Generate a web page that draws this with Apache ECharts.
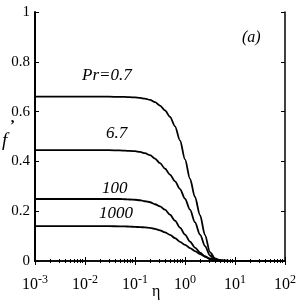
<!DOCTYPE html>
<html><head><meta charset="utf-8">
<script src="https://cdn.jsdelivr.net/npm/echarts@6/dist/echarts.min.js"></script>
<style>html,body{margin:0;padding:0;background:#fff}#c{width:300px;height:307px}</style>
</head><body><div id="c"></div>
<script>
// Data (eta on log scale, f' values)
var eta    = [0.001, 0.01, 0.03, 0.05, 0.063, 0.079, 0.1, 0.126, 0.158, 0.2, 0.251, 0.316, 0.398, 0.501, 0.631, 0.794, 1, 1.26, 1.58, 2, 2.51, 3.16, 3.98, 5.01, 6.31, 10, 100];
var f07    = [0.660, 0.660, 0.660, 0.659, 0.659, 0.658, 0.657, 0.655, 0.652, 0.647, 0.638, 0.624, 0.605, 0.579, 0.541, 0.484, 0.408, 0.330, 0.257, 0.184, 0.104, 0.036, 0.010, 0.003, 0.001, 0, 0];
var f67    = [0.445, 0.445, 0.445, 0.444, 0.443, 0.442, 0.441, 0.438, 0.433, 0.425, 0.411, 0.393, 0.371, 0.347, 0.320, 0.289, 0.250, 0.206, 0.156, 0.106, 0.060, 0.022, 0.006, 0.002, 0.001, 0, 0];
var f100   = [0.249, 0.249, 0.249, 0.249, 0.248, 0.247, 0.246, 0.244, 0.240, 0.236, 0.228, 0.219, 0.206, 0.186, 0.162, 0.134, 0.106, 0.078, 0.054, 0.034, 0.018, 0.007, 0.002, 0.001, 0.0005, 0, 0];
var f1000  = [0.140, 0.140, 0.140, 0.139, 0.139, 0.138, 0.137, 0.136, 0.135, 0.133, 0.129, 0.123, 0.115, 0.105, 0.092, 0.077, 0.065, 0.052, 0.040, 0.028, 0.018, 0.010, 0.005, 0.002, 0.001, 0, 0];
var curveLabels = ['Pr=0.7', '6.7', '100', '1000'];
var yTicks = ['0', '0.2', '0.4', '0.6', '0.8', '1'];
var xTitle = 'η';
var yTitle = 'f';

var FONT = 'Liberation Serif';
function pairs(x, y) { return x.map(function (v, i) { return [v, y[i]]; }); }
var chart = echarts.init(document.getElementById('c'), null, {renderer: 'canvas'});
var sets = [f07, f67, f100, f1000];
var series = sets.map(function (s, i) {
  return {
    type: 'line', name: curveLabels[i], data: pairs(eta, s),
    showSymbol: false, smooth: 0.3, smoothMonotone: 'x', xAxisIndex: 0, yAxisIndex: 0,
    lineStyle: {color: '#000', width: 1.8}, silent: true
  };
});
function yFmt(v) {
  var idx = Math.round(v / 0.2);
  return yTicks[idx] !== undefined ? yTicks[idx] : '';
}
var baseX = {
  type: 'log', logBase: 10, min: 0.001, max: 100,
  axisLine: {show: true, lineStyle: {color: '#000', width: 1.5}},
  axisTick: {show: true, inside: true, length: 4, lineStyle: {color: '#000', width: 1}},
  minorTick: {show: true, splitNumber: 9, length: 2, lineStyle: {color: '#000', width: 1}},
  splitLine: {show: false}, minorSplitLine: {show: false}
};
var baseY = {
  type: 'value', min: 0, max: 1, interval: 0.2,
  axisLine: {show: true, lineStyle: {color: '#000', width: 1.5}},
  axisTick: {show: true, inside: true, length: 4, lineStyle: {color: '#000', width: 1}},
  splitLine: {show: false}
};
chart.setOption({
  animation: false,
  backgroundColor: '#fff',
  grid: {left: 35, right: 15, top: 12, bottom: 46, containLabel: false, outerBoundsMode: 'none'},
  xAxis: [
    Object.assign({}, baseX, {
      position: 'bottom',
      axisLabel: {
        margin: 13, color: '#000',
        formatter: function (v) {
          var e = Math.round(Math.log10(v));
          return '{b|10}{s|' + (e < 0 ? '-' + (-e) : e) + '}';
        },
        rich: {
          b: {fontFamily: FONT, fontSize: 16, color: '#000'},
          s: {fontFamily: FONT, fontSize: 12, color: '#000', padding: [0, 0, 9, 0]}
        }
      }
    }),
    Object.assign({}, baseX, {position: 'top', axisLabel: {show: false}})
  ],
  yAxis: [
    Object.assign({}, baseY, {
      position: 'left',
      axisLine: {show: true, lineStyle: {color: '#000', width: 2}},
      axisLabel: {fontFamily: FONT, fontSize: 15, color: '#000', margin: 5, formatter: yFmt}
    }),
    Object.assign({}, baseY, {position: 'right', axisLabel: {show: false}})
  ],
  series: series,
  graphic: [
    {type: 'text', left: 82, top: 67, style: {text: curveLabels[0], font: 'italic 17px ' + FONT, fill: '#000'}},
    {type: 'text', left: 106, top: 125, style: {text: curveLabels[1], font: 'italic 17px ' + FONT, fill: '#000'}},
    {type: 'text', left: 102, top: 180, style: {text: curveLabels[2], font: 'italic 17px ' + FONT, fill: '#000'}},
    {type: 'text', left: 99, top: 205, style: {text: curveLabels[3], font: 'italic 17px ' + FONT, fill: '#000'}},
    {type: 'text', left: 242, top: 30, style: {text: '(a)', font: 'italic 16px ' + FONT, fill: '#000'}},
    {type: 'text', left: 152, top: 284, style: {text: xTitle, font: '16px ' + FONT, fill: '#000'}},
    {type: 'text', left: 2, top: 131, style: {text: yTitle, font: 'italic 19px ' + FONT, fill: '#000'}},
    {type: 'text', left: 10, top: 119, style: {text: '’', font: 'bold 15px ' + FONT, fill: '#000'}}
  ]
});
</script>
</body></html>
